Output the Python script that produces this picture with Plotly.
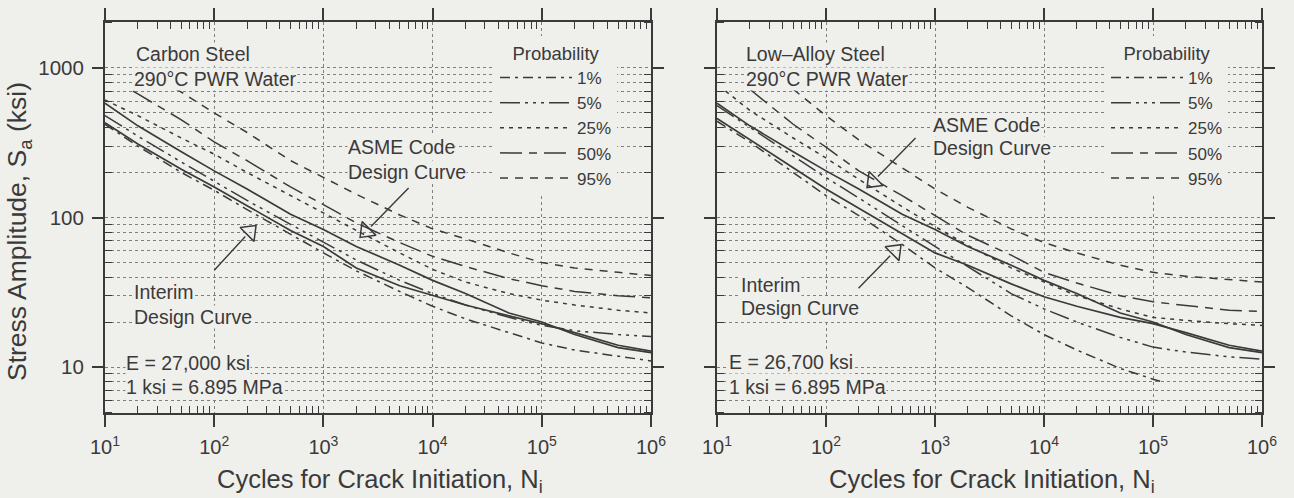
import plotly.graph_objects as go
import math

# ---------------- data ----------------
N_STD = [10, 20, 50, 100, 200, 500, 1e3, 2e3, 5e3, 1e4, 2e4, 5e4, 1e5, 2e5, 5e5, 1e6]

asme_S = [580, 410, 275, 205, 155, 105, 83, 64, 48, 38, 31, 23, 20, 16.5, 13.5, 12.5]

# Carbon steel (left panel)
cs_interim_S = [430, 310, 210, 160, 120, 82, 64, 46, 35, 30, 26, 22, 19.5, 17, 14, 12.8]
cs_p01_S = [420, 300, 200, 152, 113, 77, 58, 44, 32, 25.5, 21, 17, 14.5, 13, 11.8, 11]
cs_p05_S = [480, 350, 235, 175, 130, 90, 68, 52, 38, 31, 26, 21.5, 19, 17.5, 16.5, 16]
cs_p25_S = [610, 480, 340, 265, 200, 140, 108, 82, 58, 45, 37, 31, 28, 26, 24, 23]
cs_p50_N = [18, 20, 50, 100, 200, 500, 1e3, 2e3, 5e3, 1e4, 2e4, 5e4, 1e5, 2e5, 5e5, 1e6]
cs_p50_S = [700, 670, 450, 320, 240, 160, 122, 92, 68, 55, 47, 39, 35, 32, 30, 29]
cs_p95_N = [45, 50, 100, 200, 500, 1e3, 2e3, 5e3, 1e4, 2e4, 5e4, 1e5, 2e5, 5e5, 1e6]
cs_p95_S = [720, 690, 500, 370, 240, 185, 143, 104, 84, 72, 58, 50, 46, 43, 41]

# Low-alloy steel (right panel)
las_interim_S = [460, 330, 215, 155, 115, 78, 58, 48, 36, 29.5, 25.5, 21.5, 19.5, 17, 14, 12.8]
las_p01_N = [10, 20, 50, 100, 200, 500, 1e3, 2e3, 5e3, 1e4, 2e4, 5e4, 1e5, 1.2e5]
las_p01_S = [440, 320, 200, 140, 103, 66, 46, 34, 22, 16.5, 13, 9.8, 8.3, 8.0]
las_p05_S = [560, 400, 260, 185, 135, 88, 64, 47, 31, 24.5, 20, 15.8, 13.6, 12.6, 11.7, 11.3]
las_p25_N = [12, 20, 50, 100, 200, 500, 1e3, 2e3, 5e3, 1e4, 2e4, 5e4, 1e5, 2e5, 5e5, 1e6]
las_p25_S = [700, 520, 340, 250, 180, 118, 87, 65, 46, 37, 30, 24.5, 21.5, 20.5, 19.5, 19]
las_p50_N = [20, 50, 100, 200, 500, 1e3, 2e3, 5e3, 1e4, 2e4, 5e4, 1e5, 2e5, 5e5, 1e6]
las_p50_S = [720, 420, 295, 205, 140, 103, 76, 56, 43, 36.5, 30, 27.3, 25.8, 24, 23.5]
las_p95_N = [50, 100, 200, 500, 1e3, 2e3, 5e3, 1e4, 2e4, 5e4, 1e5, 2e5, 5e5, 1e6]
las_p95_S = [720, 480, 330, 215, 155, 117, 84, 68, 58, 48, 43, 40.5, 38.5, 37]

prob_labels = ["1%", "5%", "25%", "50%", "95%"]

x_tick_vals = [10, 100, 1e3, 1e4, 1e5, 1e6]
x_tick_text = ["10<sup>1</sup>", "10<sup>2</sup>", "10<sup>3</sup>", "10<sup>4</sup>", "10<sup>5</sup>", "10<sup>6</sup>"]
y_tick_vals = [10, 100, 1000]
y_tick_text = ["10", "100", "1000"]

# arrow marker points (head centre) for the design-curve callouts
cs_asme_arrow = (2460, 80.7)
cs_int_arrow = (213, 80.7)
las_asme_arrow = (270, 174)
las_int_arrow = (430, 60)

# ---------------- styling ----------------
W, H = 1294, 498
BG = "#efefec"
INK = "#3a3a3a"
GRID = "#7e7e7e"
FONT = "Liberation Sans, Arial, sans-serif"
DASH = {
    "1%": "10px,5px,3px,5px",
    "5%": "20px,5px,3px,5px,3px,5px,3px,5px",
    "25%": "4px,5px",
    "50%": "22px,7px,8px,7px",
    "95%": "8px,7px",
}


def px(xp, yp):
    return xp / W, 1 - yp / H


fig = go.Figure()


def curve(x, y, dash, xa, ya, name=None, legend=None, width=1.5):
    fig.add_trace(go.Scatter(
        x=x, y=y, mode="lines", xaxis=xa, yaxis=ya,
        line=dict(color=INK, width=width, dash=dash),
        name=name, showlegend=name is not None,
        legend=legend if legend else "legend", hoverinfo="skip"))


# left panel
curve(N_STD, cs_p01_S, DASH["1%"], "x", "y", prob_labels[0], "legend")
curve(N_STD, cs_p05_S, DASH["5%"], "x", "y", prob_labels[1], "legend")
curve(N_STD, cs_p25_S, DASH["25%"], "x", "y", prob_labels[2], "legend")
curve(cs_p50_N, cs_p50_S, DASH["50%"], "x", "y", prob_labels[3], "legend")
curve(cs_p95_N, cs_p95_S, DASH["95%"], "x", "y", prob_labels[4], "legend")
curve(N_STD, asme_S, "solid", "x", "y", width=1.7)
curve(N_STD, cs_interim_S, "solid", "x", "y", width=1.7)

# right panel
curve(las_p01_N, las_p01_S, DASH["1%"], "x2", "y2", prob_labels[0], "legend2")
curve(N_STD, las_p05_S, DASH["5%"], "x2", "y2", prob_labels[1], "legend2")
curve(las_p25_N, las_p25_S, DASH["25%"], "x2", "y2", prob_labels[2], "legend2")
curve(las_p50_N, las_p50_S, DASH["50%"], "x2", "y2", prob_labels[3], "legend2")
curve(las_p95_N, las_p95_S, DASH["95%"], "x2", "y2", prob_labels[4], "legend2")
curve(N_STD, asme_S, "solid", "x2", "y2", width=1.7)
curve(N_STD, las_interim_S, "solid", "x2", "y2", width=1.7)

# hollow arrow heads
for (pt, ang, xa, ya) in [(cs_asme_arrow, 225, "x", "y"), (cs_int_arrow, 45, "x", "y"),
                          (las_asme_arrow, 225, "x2", "y2"), (las_int_arrow, 45, "x2", "y2")]:
    fig.add_trace(go.Scatter(x=[pt[0]], y=[pt[1]], mode="markers", xaxis=xa, yaxis=ya,
                             showlegend=False, hoverinfo="skip",
                             marker=dict(symbol="triangle-up-open", size=17, angle=ang,
                                         color=INK, line=dict(color=INK, width=1.5))))

annotations = []
for (pt, ax, ay, xa, ya) in [(cs_asme_arrow, 44, -45, "x", "y"), (cs_int_arrow, -37, 40, "x", "y"),
                             (las_asme_arrow, 44, -45, "x2", "y2"), (las_int_arrow, -38, 39, "x2", "y2")]:
    annotations.append(dict(x=math.log10(pt[0]), y=math.log10(pt[1]), xref=xa, yref=ya,
                            text="", showarrow=True, arrowhead=0, arrowwidth=1.4,
                            arrowcolor=INK, ax=ax, ay=ay, standoff=7))

texts = [
    ("Carbon Steel", 135, 54), ("290°C PWR Water", 133, 79),
    ("ASME Code", 347, 147), ("Design Curve", 347, 172),
    ("Interim", 133, 292), ("Design Curve", 133, 317),
    ("E = 27,000 ksi", 125, 363), ("1 ksi = 6.895 MPa", 125, 387),
    ("Low–Alloy Steel", 745, 54), ("290°C PWR Water", 745, 79),
    ("ASME Code", 932, 125), ("Design Curve", 932, 148),
    ("Interim", 740, 285), ("Design Curve", 740, 308),
    ("E = 26,700 ksi", 728, 362), ("1 ksi = 6.895 MPa", 728, 387),
]
for t, xp, yp in texts:
    xx, yy = px(xp, yp)
    annotations.append(dict(text=t, x=xx, y=yy, xref="paper", yref="paper",
                            xanchor="left", yanchor="middle", showarrow=False,
                            bgcolor=BG, borderpad=0,
                            font=dict(family=FONT, size=19.5, color=INK)))

# axis titles
for cx in (380, 992):
    xx, yy = px(cx, 481)
    annotations.append(dict(text="Cycles for Crack Initiation, N<sub>i</sub>", x=xx, y=yy,
                            xref="paper", yref="paper", xanchor="center", yanchor="middle",
                            showarrow=False, font=dict(family=FONT, size=25.5, color=INK)))
xx, yy = px(19, 232)
annotations.append(dict(text="Stress Amplitude, S<sub>a</sub> (ksi)", x=xx, y=yy,
                        xref="paper", yref="paper", xanchor="center", yanchor="middle",
                        textangle=-90, showarrow=False,
                        font=dict(family=FONT, size=26.5, color=INK)))

minor_x = [m * 10 ** k for k in range(1, 6) for m in range(2, 10)]
minor_y = [m * 10 ** k for k in range(0, 4) for m in range(2, 10) if 5 <= m * 10 ** k <= 2000]


def xaxis(domain, anchor):
    return dict(type="log", range=[1, 6], domain=domain, anchor=anchor,
                showline=True, linecolor=INK, linewidth=2, mirror="ticks",
                ticks="outside", ticklen=12, tickwidth=1.6, tickcolor=INK,
                tickmode="array", tickvals=x_tick_vals, ticktext=x_tick_text,
                tickfont=dict(family=FONT, size=20, color=INK), ticklabelstandoff=3,
                showgrid=True, gridcolor=GRID, griddash="dot", gridwidth=1,
                minor=dict(tickmode="array", tickvals=minor_x, ticks="inside", ticklen=7,
                           tickwidth=1.3, tickcolor=INK, showgrid=False),
                zeroline=False, automargin=False)


def yaxis(domain, anchor, labels):
    return dict(type="log", range=[0.693, 3.307], domain=domain, anchor=anchor,
                showline=True, linecolor=INK, linewidth=2, mirror="ticks",
                ticks="outside", ticklen=11, tickwidth=1.6, tickcolor=INK,
                tickmode="array", tickvals=y_tick_vals, ticktext=y_tick_text,
                showticklabels=labels, ticklabelstandoff=4,
                tickfont=dict(family=FONT, size=20.5, color=INK),
                showgrid=True, gridcolor=GRID, griddash="dot", gridwidth=1,
                minor=dict(tickmode="array", tickvals=minor_y, ticks="inside", ticklen=7,
                           tickwidth=1.3, tickcolor=INK, showgrid=True, gridcolor=GRID,
                           griddash="dot", gridwidth=1),
                zeroline=False, automargin=False)


ydom = [85 / H, 476 / H]
leg_common = dict(bgcolor=BG, borderwidth=0, itemwidth=72, itemclick=False,
                  font=dict(family=FONT, size=17, color=INK),
                  title=dict(text="Probability", side="top center",
                             font=dict(family=FONT, size=18.5, color=INK)),
                  xanchor="left", yanchor="top", tracegroupgap=0)

fig.update_layout(
    width=W, height=H, margin=dict(l=0, r=0, t=0, b=0), autosize=False,
    paper_bgcolor=BG, plot_bgcolor=BG, template="none",
    font=dict(family=FONT, color=INK),
    xaxis=xaxis([105 / W, 651 / W], "y"),
    yaxis=yaxis(ydom, "x", True),
    xaxis2=xaxis([717 / W, 1262 / W], "y2"),
    yaxis2=yaxis(ydom, "x2", False),
    legend=dict(x=495 / W, y=1 - 36 / H, **leg_common),
    legend2=dict(x=1106 / W, y=1 - 36 / H, **leg_common),
    annotations=annotations,
    showlegend=True,
)

fig.write_html("out.html")
